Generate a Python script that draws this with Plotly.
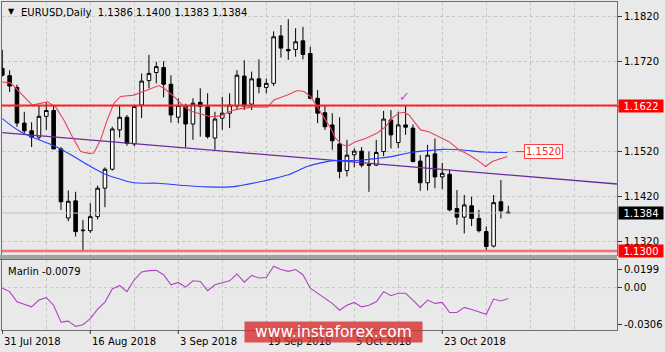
import plotly.graph_objects as go

# ---------------- data ----------------
bar_idx = list(range(70))
opens = [1.1704,1.1688,1.1662,1.1583,1.1566,1.1552,1.1598,1.1611,1.1526,1.1373,
         1.1411,1.1345,1.1345,1.1376,1.1439,1.1481,1.1568,1.1596,1.1537,1.1623,
         1.1677,1.1695,1.1706,1.1669,1.1596,1.1620,1.1581,1.1629,1.1619,1.1550,
         1.1594,1.1605,1.1621,1.1687,1.1625,1.1681,1.1662,1.1671,1.1776,1.1746,
         1.1746,1.1765,1.1737,1.1638,1.1606,1.1579,1.1537,1.1478,1.1513,1.1521,
         1.1491,1.1490,1.1520,1.1590,1.1540,1.1579,1.1572,1.1499,1.1451,1.1515,
         1.1464,1.1470,1.1394,1.1375,1.1400,1.1372,1.1343,1.1311,1.1409,1.1386]
highs = [1.1745,1.1700,1.1668,1.1608,1.1585,1.1622,1.1628,1.1622,1.1530,1.1434,
         1.1431,1.1369,1.1406,1.1445,1.1485,1.1575,1.1623,1.1601,1.1624,1.1693,
         1.1734,1.1719,1.1720,1.1689,1.1638,1.1626,1.1638,1.1660,1.1649,1.1608,
         1.1641,1.1649,1.1700,1.1722,1.1697,1.1724,1.1682,1.1786,1.1800,1.1813,
         1.1793,1.1796,1.1752,1.1656,1.1623,1.1605,1.1596,1.1546,1.1527,1.1530,
         1.1520,1.1546,1.1610,1.1612,1.1608,1.1621,1.1580,1.1512,1.1535,1.1549,
         1.1495,1.1480,1.1435,1.1424,1.1420,1.1391,1.1354,1.1424,1.1457,1.1400]
lows = [1.1686,1.1652,1.1575,1.1561,1.1530,1.1546,1.1568,1.1525,1.1391,1.1366,
        1.1332,1.1302,1.1340,1.1370,1.1397,1.1478,1.1551,1.1533,1.1532,1.1594,
        1.1660,1.1671,1.1640,1.1584,1.1583,1.1529,1.1546,1.1553,1.1549,1.1524,
        1.1568,1.1572,1.1612,1.1612,1.1612,1.1649,1.1649,1.1665,1.1728,1.1723,
        1.1730,1.1724,1.1636,1.1583,1.1568,1.1524,1.1461,1.1465,1.1485,1.1485,
        1.1431,1.1488,1.1510,1.1527,1.1528,1.1557,1.1496,1.1433,1.1434,1.1439,
        1.1437,1.1388,1.1358,1.1339,1.1355,1.1341,1.1302,1.1308,1.1372,1.1383]
closes = [1.1689,1.1665,1.1583,1.1566,1.1552,1.1598,1.1611,1.1526,1.1409,1.1410,
          1.1343,1.1346,1.1376,1.1439,1.1481,1.1570,1.1596,1.1538,1.1620,1.1676,
          1.1693,1.1708,1.1669,1.1601,1.1622,1.1581,1.1627,1.1620,1.1553,1.1592,
          1.1605,1.1623,1.1689,1.1621,1.1681,1.1664,1.1671,1.1774,1.1749,1.1743,
          1.1763,1.1735,1.1638,1.1605,1.1575,1.1544,1.1476,1.1512,1.1521,1.1490,
          1.1490,1.1518,1.1592,1.1557,1.1579,1.1574,1.1498,1.1451,1.1512,1.1464,
          1.1472,1.1391,1.1375,1.1402,1.1372,1.1345,1.1310,1.1407,1.1389,1.1384]

red_ma_x = [0.00,1.13,4.09,6.14,7.27,8.40,9.59,10.68,11.81,12.49,13.40,14.22,15.22,16.13,17.95,
            20.22,21.36,22.04,23.40,24.55,25.68,27.04,28.41,29.77,31.13,32.50,34.31,36.14,37.04,
            38.87,40.23,41.13,42.04,42.96,43.86,44.77,45.45,46.37,47.05,48.18,49.54,51.14,52.27,
            53.18,54.08,54.77,55.45,56.36,57.04,58.17,59.54,60.90,62.27,63.63,64.78,65.91,66.82,
            67.72,68.87]
red_ma_y = [1.1674,1.1672,1.1623,1.1630,1.1619,1.1590,1.1552,1.1520,1.1516,1.1517,1.1546,1.1586,
            1.1627,1.1642,1.1645,1.1660,1.1666,1.1660,1.1642,1.1623,1.1610,1.1603,1.1597,1.1599,
            1.1610,1.1615,1.1619,1.1618,1.1634,1.1645,1.1655,1.1653,1.1642,1.1619,1.1594,1.1572,
            1.1549,1.1535,1.1532,1.1542,1.1549,1.1561,1.1575,1.1594,1.1605,1.1607,1.1601,1.1583,
            1.1568,1.1564,1.1553,1.1542,1.1524,1.1513,1.1501,1.1487,1.1498,1.1503,1.1509]

blue_ma_x = [0.00,2.50,7.27,9.76,12.04,14.32,15.68,17.95,21.14,24.76,27.96,31.13,32.50,35.67,
             38.87,41.59,43.41,45.22,47.05,48.86,51.14,53.40,55.68,57.27,60.22,62.49,65.68,68.87]
blue_ma_y = [1.1593,1.1564,1.1531,1.1509,1.1487,1.1468,1.1461,1.1451,1.1450,1.1445,1.1442,1.1442,
             1.1445,1.1455,1.1468,1.1487,1.1495,1.1500,1.1500,1.1501,1.1505,1.1510,1.1518,1.1521,
             1.1525,1.1524,1.1519,1.1518]

trend_x = [0.0, 83.83]
trend_y = [1.1562, 1.14483]

marlin = [-0.0004,-0.0029,-0.0102,-0.0122,-0.0139,-0.0090,-0.0073,-0.0127,-0.0249,-0.0242,
          -0.0280,-0.0268,-0.0224,-0.0156,-0.0105,-0.0010,0.0015,-0.0029,0.0056,0.0113,
          0.0122,0.0124,0.0093,0.0020,0.0037,0.0003,0.0049,0.0044,-0.0022,0.0020,
          0.0032,0.0049,0.0098,0.0039,0.0088,0.0069,0.0073,0.0154,0.0130,0.0117,
          0.0130,0.0093,-0.0004,-0.0041,-0.0078,-0.0114,-0.0163,-0.0127,-0.0107,-0.0139,
          -0.0127,-0.0102,-0.0029,-0.0059,-0.0041,-0.0041,-0.0090,-0.0143,-0.0090,-0.0114,
          -0.0107,-0.0180,-0.0180,-0.0143,-0.0158,-0.0174,-0.0193,-0.0083,-0.0097,-0.0079]

price_ticks = [1.1820, 1.1720, 1.1620, 1.1520, 1.1420, 1.1320]
price_tick_text = ["1.1820", "1.1720", "1.1620", "1.1520", "1.1420", "1.1320"]
marlin_tick_vals = [0.0127, 0.0, -0.0263]
marlin_tick_text = ["0.0199", "0.00", "-0.0306"]
date_idx = [0, 12, 24, 36, 48, 60]
date_labels = ["31 Jul 2018", "16 Aug 2018", "3 Sep 2018", "19 Sep 2018", "5 Oct 2018", "23 Oct 2018"]

resist_level = 1.1622
support_level = 1.1300
last_price = 1.1384
ma_label_level = 1.1520
check_x, check_y = 54.8, 1.1643

# ---------------- layout constants ----------------
W, H = 665, 352
ML, MR, MT, MB = 2, 48, 2, 22
PH = H - MT - MB          # 328
def fy(px):               # pixel row -> paper y
    return (H - MB - px) / PH
def fx(px):
    return (px - ML) / (W - ML - MR)

FONT = "DejaVu Sans"
BG = "#e9e9e9"
GRID = "#c4c4c4"
BORDER = "#6e6e6e"
xr = [-0.04, 83.83]

fig = go.Figure()
# current price line (behind candles)
fig.add_trace(go.Scatter(x=xr, y=[last_price, last_price], mode="lines",
                         line=dict(color="#c2c2c2", width=1), xaxis="x", yaxis="y", hoverinfo="skip"))
fig.add_trace(go.Candlestick(
    x=bar_idx, open=opens, high=highs, low=lows, close=closes,
    increasing=dict(line=dict(color="black", width=1), fillcolor="white"),
    decreasing=dict(line=dict(color="black", width=1), fillcolor="black"),
    whiskerwidth=0, xaxis="x", yaxis="y", hoverinfo="skip"))
fig.add_trace(go.Scatter(x=trend_x, y=trend_y, mode="lines",
                         line=dict(color="#6b2c9e", width=1.3), xaxis="x", yaxis="y", hoverinfo="skip"))
fig.add_trace(go.Scatter(x=blue_ma_x, y=blue_ma_y, mode="lines", line_shape="spline",
                         line=dict(color="#2b3fff", width=1.1), xaxis="x", yaxis="y", hoverinfo="skip"))
fig.add_trace(go.Scatter(x=red_ma_x, y=red_ma_y, mode="lines",
                         line=dict(color="#e8445e", width=1.1), xaxis="x", yaxis="y", hoverinfo="skip"))
# horizontal levels
fig.add_trace(go.Scatter(x=xr, y=[resist_level, resist_level], mode="lines",
                         line=dict(color="#ff2424", width=2), xaxis="x", yaxis="y", hoverinfo="skip"))
fig.add_trace(go.Scatter(x=xr, y=[support_level, support_level], mode="lines",
                         line=dict(color="#f07474", width=2.5), xaxis="x", yaxis="y", hoverinfo="skip"))
fig.add_trace(go.Scatter(x=[70, 71.2], y=[ma_label_level, ma_label_level], mode="lines",
                         line=dict(color="#ff3030", width=1), xaxis="x", yaxis="y", hoverinfo="skip"))
# oscillator
fig.add_trace(go.Scatter(x=bar_idx, y=marlin, mode="lines",
                         line=dict(color="#b044c4", width=1.1), xaxis="x2", yaxis="y2", hoverinfo="skip"))

axis_common = dict(range=xr, showticklabels=False, ticks="", tickmode="linear", tick0=0, dtick=6,
                   showgrid=True, gridcolor=GRID, griddash="3px,3px", gridwidth=1,
                   zeroline=False, showline=True, linecolor=BORDER, linewidth=1, mirror=True)
fig.update_layout(
    width=W, height=H, autosize=False,
    margin=dict(l=ML, r=MR, t=MT, b=MB),
    paper_bgcolor=BG, plot_bgcolor=BG,
    showlegend=False, hovermode=False,
    font=dict(family=FONT, size=10, color="black"),
    xaxis=dict(domain=[0, 1], anchor="y", rangeslider=dict(visible=False), **axis_common),
    xaxis2=dict(domain=[0, 1], anchor="y2", matches="x", **axis_common),
    yaxis=dict(domain=[fy(255), 1], range=[1.12912, 1.18510], side="right",
               tickmode="array", tickvals=price_ticks, ticktext=price_tick_text,
               ticks="outside", ticklen=4, tickcolor="#333", tickfont=dict(size=10, family=FONT),
               showgrid=True, gridcolor=GRID, griddash="3px,3px", zeroline=False,
               showline=True, linecolor=BORDER, mirror=True, anchor="x"),
    yaxis2=dict(domain=[0, fy(260)], range=[-0.0306, 0.0199], side="right",
                tickmode="array", tickvals=marlin_tick_vals, ticktext=marlin_tick_text,
                ticks="outside", ticklen=4, tickcolor="#333", tickfont=dict(size=10, family=FONT),
                showgrid=False, zeroline=False, showline=True, linecolor=BORDER, mirror=True, anchor="x2"),
)

shapes = []
# zero line in sub window
shapes.append(dict(type="line", xref="paper", yref="y2", x0=0, x1=1, y0=0, y1=0,
                   line=dict(color=GRID, width=1, dash="3px,3px"), layer="below"))
# pane separator
shapes.append(dict(type="rect", xref="paper", yref="paper", x0=fx(0), x1=1, y0=fy(260), y1=fy(255),
                   fillcolor="#a2a2a2", line=dict(width=0), layer="above"))
shapes.append(dict(type="line", xref="paper", yref="paper", x0=fx(0), x1=1, y0=fy(259.5), y1=fy(259.5),
                   line=dict(color="#6e6e6e", width=1), layer="above"))
# date tick marks
for i in date_idx:
    shapes.append(dict(type="line", xref="x2", yref="paper", x0=i, x1=i, y0=0, y1=fy(334),
                       line=dict(color="#333", width=1)))
fig.update_layout(shapes=shapes)

ann = []
ann.append(dict(xref="paper", yref="paper", x=fx(6), y=fy(11.5), xanchor="left", yanchor="middle",
                text="▼", showarrow=False, font=dict(size=8, color="black", family=FONT)))
ann.append(dict(xref="paper", yref="paper", x=fx(19), y=fy(12), xanchor="left", yanchor="middle",
                text="EURUSD,Daily\u00a0\u00a01.1386 1.1400 1.1383 1.1384", showarrow=False,
                font=dict(size=10, color="black", family=FONT)))
ann.append(dict(xref="paper", yref="paper", x=fx(6), y=fy(271.5), xanchor="left", yanchor="middle",
                text="Marlin -0.0079", showarrow=False, font=dict(size=10, color="black", family=FONT)))
ann.append(dict(xref="x", yref="y", x=check_x, y=check_y, text="✓", showarrow=False,
                font=dict(size=13, color="#dd3cdd", family=FONT)))
ann.append(dict(xref="x", yref="y", x=71.2, y=ma_label_level, xanchor="left", yanchor="middle",
                text="1.1520", showarrow=False, bgcolor="white", bordercolor="#ff4040", borderwidth=1,
                borderpad=1, font=dict(size=10, color="#ff2020", family=FONT)))
for lvl, txt, bg in [(resist_level, "1.1622", "#ff0000"), (last_price, "1.1384", "#000000"),
                     (support_level, "1.1300", "#ff0000")]:
    ann.append(dict(xref="paper", yref="y", x=1, y=lvl, xanchor="left", yanchor="middle", xshift=1,
                    text=txt, showarrow=False, bgcolor=bg, width=44, height=12, borderpad=0,
                    font=dict(size=10, color="white", family=FONT)))
for i, lab in zip(date_idx, date_labels):
    ann.append(dict(xref="x2", yref="paper", x=i, y=fy(341), xanchor="left", yanchor="middle",
                    text=lab, showarrow=False, font=dict(size=10, color="black", family=FONT)))
ann.append(dict(xref="paper", yref="paper", x=fx(333), y=fy(331.7), xanchor="center", yanchor="middle",
                text="www.instaforex.com", showarrow=False, width=177, height=20, borderpad=0,
                bgcolor="rgba(214,46,46,0.80)", font=dict(size=15.5, color="white", family=FONT)))
fig.update_layout(annotations=ann)

fig.write_html("out.html")
